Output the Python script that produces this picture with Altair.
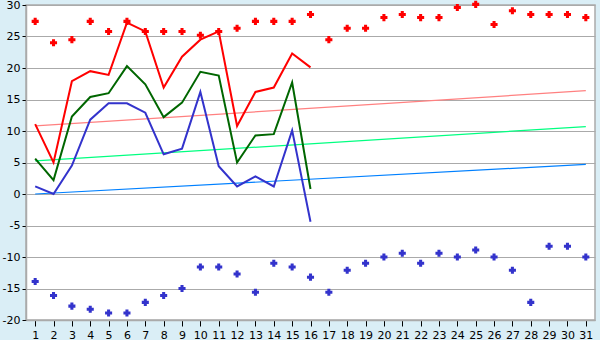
import altair as alt
import pandas as pd

days16 = list(range(1, 17))
days31 = list(range(1, 32))

t_max = [11.1, 5.0, 17.9, 19.5, 18.9, 27.2, 25.8, 16.9, 21.8, 24.5, 25.8, 10.8, 16.2, 16.9, 22.3, 20.1]
t_mean = [5.6, 2.2, 12.3, 15.4, 16.0, 20.3, 17.4, 12.2, 14.5, 19.4, 18.8, 5.0, 9.3, 9.5, 17.7, 0.8]
t_min = [1.2, 0.0, 4.5, 11.8, 14.4, 14.4, 12.9, 6.3, 7.2, 16.2, 4.4, 1.2, 2.8, 1.2, 10.1, -4.4]

rec_max = [27.4, 24.0, 24.5, 27.4, 25.8, 27.4, 25.8, 25.8, 25.8, 25.2, 25.8, 26.3, 27.4, 27.4, 27.4,
           28.5, 24.5, 26.3, 26.3, 28.0, 28.5, 28.0, 28.0, 29.6, 30.1, 26.9, 29.1, 28.5, 28.5, 28.5, 28.0]
rec_min = [-13.9, -16.1, -17.8, -18.3, -18.9, -18.9, -17.2, -16.1, -15.0, -11.6, -11.6, -12.7, -15.6, -11.0, -11.6,
           -13.2, -15.6, -12.1, -11.0, -10.0, -9.4, -11.0, -9.4, -10.0, -8.9, -10.0, -12.1, -17.2, -8.3, -8.3, -10.0]

norm_days = [1, 31]
norm_max = [10.8, 16.4]
norm_mean = [5.25, 10.7]
norm_min = [0.0, 4.7]

y_ticks = [-20, -15, -10, -5, 0, 5, 10, 15, 20, 25, 30]

marker_path = ("M-1,-0.43L-0.43,-0.43L-0.43,-1L0.43,-1L0.43,-0.43L1,-0.43L1,0.43L0.43,0.43"
               "L0.43,1L-0.43,1L-0.43,0.43L-1,0.43Z")

xs = alt.Scale(domain=[0.5, 31.5], nice=False, zero=False)
ys = alt.Scale(domain=[-20, 30], nice=False)

x_axis = alt.Axis(values=days31, tickSize=6, tickColor="#000000", domain=True, domainColor="#aaaaaa",
                  domainWidth=1.5, grid=False, labelFontSize=11, labelFont="DejaVu Sans", labelColor="#000000",
                  title=None, labelPadding=3, labelExpr="'' + datum.value", labelFlush=False)
y_axis = alt.Axis(values=y_ticks, tickSize=4, tickColor="#000000", domainColor="#aaaaaa",
                  domainWidth=1.5, grid=True, gridColor="#aaaaaa", gridWidth=1.2, labelFontSize=11,
                  labelFont="DejaVu Sans", labelColor="#000000", title=None, labelPadding=2,
                  labelExpr="'' + datum.value", labelFlush=False)

X = alt.X("day:Q", scale=xs, axis=x_axis)
Y = alt.Y("v:Q", scale=ys, axis=y_axis)

def line_layer(days, vals, color, width):
    df = pd.DataFrame({"day": days, "v": vals})
    return alt.Chart(df).mark_line(color=color, strokeWidth=width, clip=True).encode(x=X, y=Y)

def pt_layer(days, vals, color):
    df = pd.DataFrame({"day": days, "v": vals})
    return alt.Chart(df).mark_point(shape=marker_path, filled=True, color=color, size=50, opacity=1).encode(x=X, y=Y)

chart = alt.layer(
    line_layer(norm_days, norm_max, "#ff8080", 1.2),
    line_layer(norm_days, norm_mean, "#00ff80", 1.2),
    line_layer(norm_days, norm_min, "#0080ff", 1.2),
    line_layer(days16, t_max, "#ff0000", 2),
    line_layer(days16, t_mean, "#006600", 2),
    line_layer(days16, t_min, "#3333cc", 2),
    pt_layer(days31, rec_max, "#ff0000"),
    pt_layer(days31, rec_min, "#3333cc"),
).properties(
    width=569, height=315,
    autosize=alt.AutoSizeParams(type="none"),
    padding={"left": 26, "top": 5, "right": 5, "bottom": 20},
    background="#daeef6",
).configure_view(
    fill="#ffffff", stroke="#aaaaaa", strokeWidth=1.5
)

chart.save("out.html", embed_options={"renderer": "svg", "actions": False})
